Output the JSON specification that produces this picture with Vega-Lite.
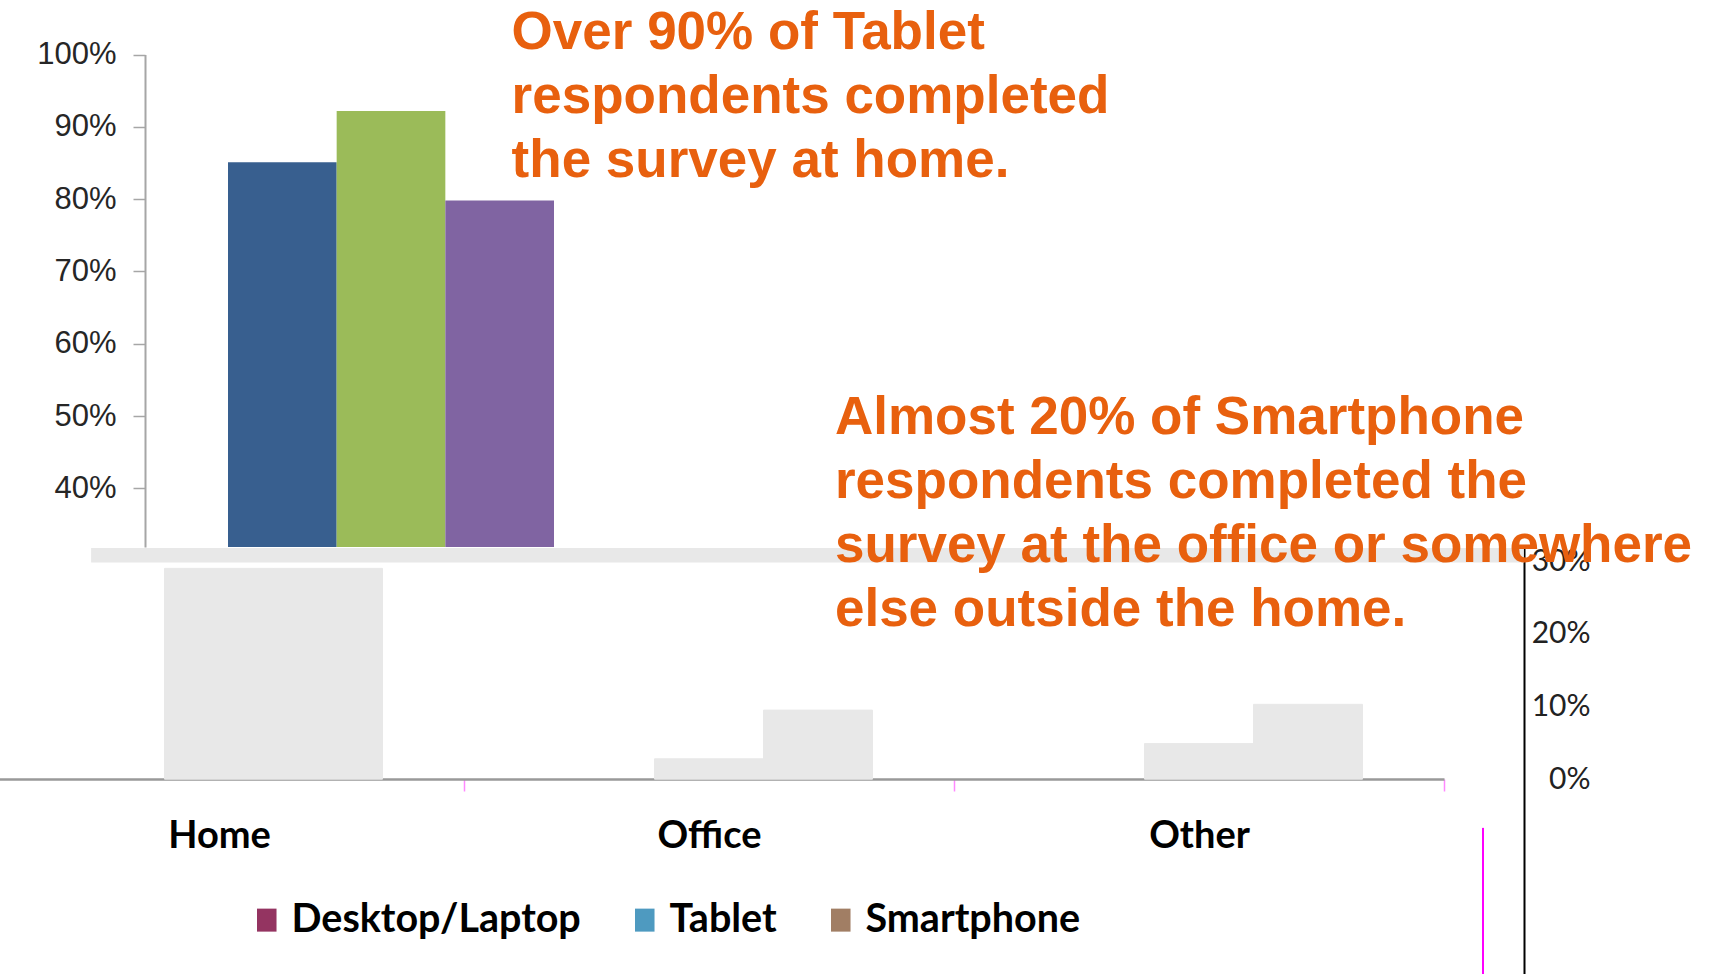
{
  "$schema": "https://vega.github.io/schema/vega-lite/v6.json",
  "width": 1709,
  "height": 974,
  "autosize": {"type": "none"},
  "padding": 0,
  "background": "white",
  "config": {"view": {"stroke": null}},
  "datasets": {
    "top": [
      {"location": "Home", "device": "Desktop/Laptop", "share": 85.1},
      {"location": "Home", "device": "Tablet", "share": 92.2},
      {"location": "Home", "device": "Smartphone", "share": 79.8}
    ],
    "bottom": [
      {"location": "Home", "device": "Tablet", "share": 29.0},
      {"location": "Home", "device": "Smartphone", "share": 29.0},
      {"location": "Office", "device": "Tablet", "share": 2.8},
      {"location": "Office", "device": "Smartphone", "share": 9.5},
      {"location": "Other", "device": "Tablet", "share": 4.9},
      {"location": "Other", "device": "Smartphone", "share": 10.3}
    ]
  },
  "layer": [
    {
      "layer": [
        {
          "data": {"name": "top"},
          "mark": {"type": "bar"},
          "encoding": {
            "x": {"field": "location", "type": "nominal", "scale": {"domain": ["Home"], "range": [228, 554], "paddingInner": 0, "paddingOuter": 0}, "axis": null},
            "xOffset": {"field": "device", "type": "nominal", "scale": {"domain": ["Desktop/Laptop", "Tablet", "Smartphone"], "paddingInner": 0, "paddingOuter": 0}},
            "y": {
              "field": "share", "type": "quantitative",
              "scale": {"domain": [31.9, 100], "range": [547, 54.5], "nice": false, "zero": false},
              "axis": {
                "orient": "left", "offset": -145, "values": [40, 50, 60, 70, 80, 90, 100],
                "labelExpr": "datum.value + '%'", "title": null, "grid": false,
                "domainColor": "#A6A6A6", "domainWidth": 2, "tickColor": "#A6A6A6", "tickSize": 12, "tickWidth": 1.5,
                "labelFont": "Liberation Sans", "labelFontSize": 31, "labelColor": "#262626", "labelPadding": 17
              }
            },
            "y2": {"datum": 31.9},
            "color": {"field": "device", "type": "nominal", "scale": {"domain": ["Desktop/Laptop", "Tablet", "Smartphone"], "range": ["#385F8F", "#9BBB59", "#8064A2"]}, "legend": null}
          }
        },
        {
          "data": {"values": [{}]},
          "mark": {"type": "text", "align": "left", "baseline": "alphabetic", "font": "Liberation Sans", "fontWeight": "bold", "fontSize": 53, "lineHeight": 64, "color": "#E8600E"},
          "encoding": {
            "x": {"datum": "Home", "bandPosition": 0.87},
            "y": {"datum": 100.76},
            "text": {"value": ["Over 90% of Tablet", "respondents completed", "the survey at home."]}
          }
        }
      ]
    },
    {
      "layer": [
        {
          "data": {"name": "bottom"},
          "mark": {"type": "bar", "stroke": "#E8E8E8", "strokeWidth": 1},
          "encoding": {
            "x": {
              "field": "location", "type": "nominal",
              "scale": {"domain": ["Home", "Office", "Other"], "range": [-26, 1444], "paddingInner": 0, "paddingOuter": 0},
              "axis": {
                "orient": "bottom", "offset": -195, "title": null, "labelAngle": 0,
                "domainColor": "#999999", "domainWidth": 2.5, "tickBand": "extent", "tickColor": "#FF88FF", "tickSize": 12, "tickWidth": 1.5,
                "labelFont": "Lato", "labelFontWeight": "bold", "labelFontSize": 38, "labelColor": "#000000", "labelPadding": 26
              }
            },
            "xOffset": {"field": "device", "type": "nominal", "scale": {"domain": ["Desktop/Laptop", "Tablet", "Smartphone"], "paddingInner": 0, "paddingOuter": 0.748}},
            "y": {
              "field": "share", "type": "quantitative",
              "scale": {"domain": [-26.8, 31.8], "range": [974, 548], "nice": false, "zero": false},
              "axis": {
                "orient": "right", "offset": -185, "values": [0, 10, 20, 30], "labelExpr": "datum.value + '%'",
                "title": null, "grid": false, "ticks": false, "domainColor": "#000000", "domainWidth": 2,
                "labelAlign": "right", "labelPadding": 66, "labelFont": "Lato", "labelFontSize": 30, "labelColor": "#222222"
              }
            },
            "color": {
              "field": "device", "type": "nominal",
              "scale": {"domain": ["Desktop/Laptop", "Tablet", "Smartphone"], "range": ["#943461", "#4E9AC0", "#A17E64"]},
              "condition": {"test": "true", "value": "#E8E8E8"},
              "legend": {
                "orient": "none", "legendX": 247, "legendY": 900, "direction": "horizontal", "title": null,
                "symbolType": "M-0.85,-1H0.85V1H-0.85Z", "symbolSize": 529, "symbolStrokeWidth": 0,
                "labelFont": "Lato", "labelFontWeight": "bold", "labelFontSize": 39.5, "labelColor": "#000000",
                "labelOffset": 5, "columnPadding": 44, "padding": 0, "labelLimit": 0
              }
            }
          }
        },
        {
          "data": {"values": [{}]},
          "mark": {"type": "rect", "color": "#E8E8E8"},
          "encoding": {
            "x": {"datum": "Home", "bandPosition": 0.239},
            "x2": {"datum": "Other", "bandPosition": 1.163},
            "y": {"datum": 31.8},
            "y2": {"datum": 29.8}
          }
        },
        {
          "data": {"values": [{}]},
          "mark": {"type": "rule", "color": "#FF00FF", "strokeWidth": 2},
          "encoding": {
            "x": {"datum": "Other", "bandPosition": 1.0796},
            "y": {"datum": -6.7},
            "y2": {"datum": -26.8}
          }
        },
        {
          "data": {"values": [{}]},
          "mark": {"type": "text", "align": "left", "baseline": "alphabetic", "font": "Liberation Sans", "fontWeight": "bold", "fontSize": 53, "lineHeight": 64, "color": "#E8600E"},
          "encoding": {
            "x": {"datum": "Office", "bandPosition": 0.757},
            "y": {"datum": 47.5},
            "text": {"value": ["Almost 20% of Smartphone", "respondents completed the", "survey at the office or somewhere", "else outside the home."]}
          }
        }
      ]
    }
  ],
  "resolve": {"scale": {"x": "independent", "y": "independent", "color": "independent", "xOffset": "independent"}}
}
